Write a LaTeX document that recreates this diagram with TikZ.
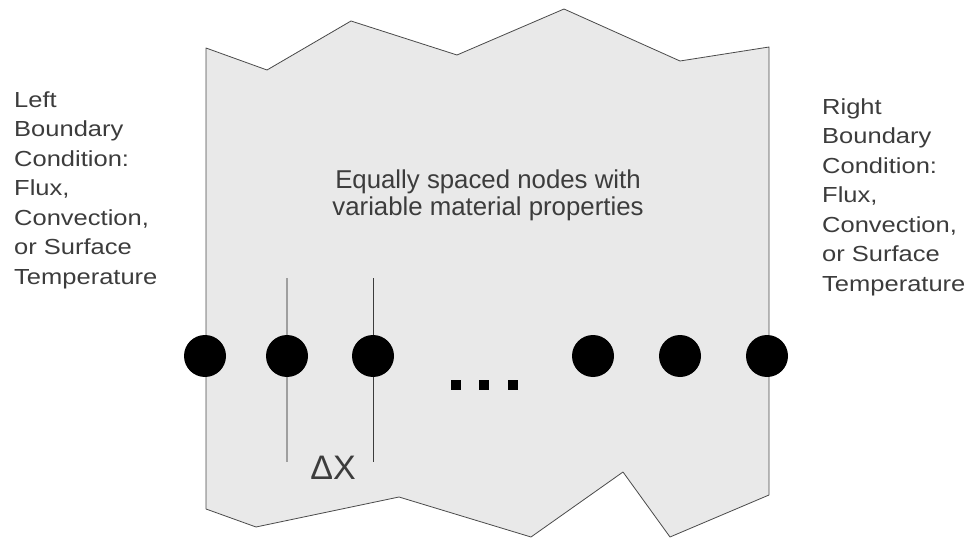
\documentclass[tikz,border=0pt]{standalone}
\usepackage{fontspec}
\setmainfont{Liberation Sans}
\newfontfamily\widesans[FakeStretch=1.17]{Liberation Sans}
\definecolor{slab}{HTML}{E9E9E9}
\definecolor{edge}{HTML}{4A4A4A}
\definecolor{ink}{HTML}{3C3C3C}
\begin{document}
\begin{tikzpicture}[x=1pt,y=-1pt,
  gridpt/.style={circle,fill=black,draw=none,minimum size=42pt,inner sep=0pt},
  dotsq/.style={rectangle,fill=black,draw=none,minimum size=10pt,inner sep=0pt},
  bclabel/.style={anchor=north west,align=left,inner sep=0pt,text=ink,
    font={\widesans\fontsize{21.8}{29.5}\selectfont}},
]
\useasboundingbox (0,0) rectangle (972,540);

% cut-away slab of material
\filldraw[fill=slab,draw=edge,line width=0.8pt,line join=round]
  (206,48) -- (267,70) -- (351,21) -- (457,55) -- (564,9) -- (680,61) -- (769,47)
  -- (769,495) -- (670,537) -- (623,472) -- (531,537) -- (399,497) -- (256,527)
  -- (206,509) -- cycle;

% spacing markers
\coordinate (t2) at (287,278);
\coordinate (b2) at (287,462);
\coordinate (t3) at (373,278);
\coordinate (b3) at (373,462);
\draw[color=gray!75,line width=1.5pt] (t2) -- (b2);
\draw[color=ink,line width=1pt] (t3) -- (b3);

% grid points
\node[gridpt] (n1) at (205,356) {};
\node[gridpt] (n2) at (287,356) {};
\node[gridpt] (n3) at (373,356) {};
\node[gridpt] (n4) at (593,356) {};
\node[gridpt] (n5) at (680,356) {};
\node[gridpt] (n6) at (767,356) {};

% ellipsis
\node[dotsq] (d1) at (456,385) {};
\node[dotsq] (d2) at (484,385) {};
\node[dotsq] (d3) at (513,385) {};

\node[text=ink,inner sep=0pt,font={\fontsize{34}{36}\selectfont}] (dx) at (333,468) {ΔX};

\node[text=ink,align=center,inner sep=0pt,font={\fontsize{25.8}{27}\selectfont}] (mid) at (488,195)
  {Equally spaced nodes with\\variable material properties};

\node[bclabel] (lbc) at (14,91.5)
  {Left\\Boundary\\Condition:\\Flux,\\Convection,\\or Surface\\Temperature};

\node[bclabel] (rbc) at (822,98.5)
  {Right\\Boundary\\Condition:\\Flux,\\Convection,\\or Surface\\Temperature};
\end{tikzpicture}
\end{document}
